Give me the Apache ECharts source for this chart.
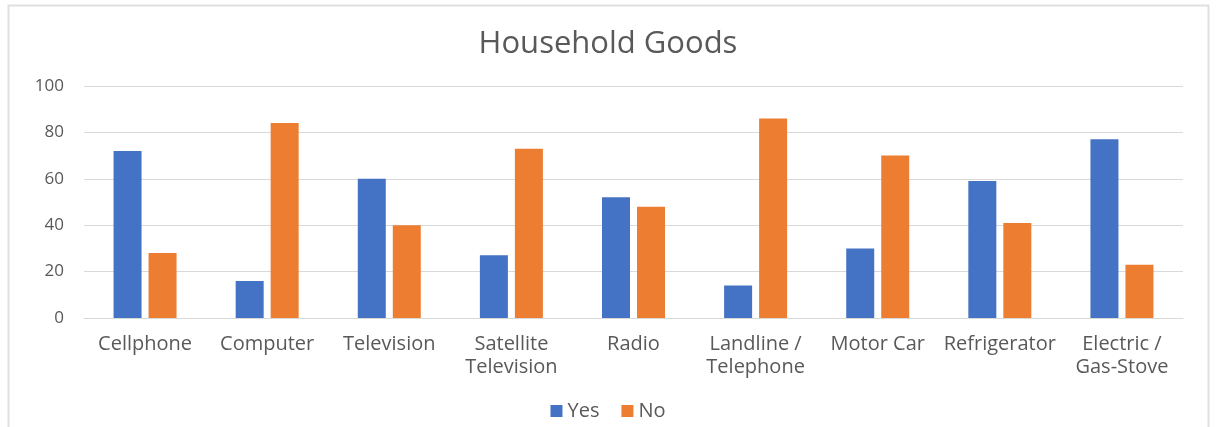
<!DOCTYPE html>
<html>
<head>
<meta charset="utf-8">
<script src="https://cdn.jsdelivr.net/npm/echarts@6/dist/echarts.min.js"></script>
<style>
html,body{margin:0;padding:0;background:#fff;}
#chart{width:1216px;height:427px;}
</style>
</head>
<body>
<div id="chart"></div>
<script>
const categories = ['Cellphone','Computer','Television','Satellite\nTelevision','Radio','Landline /\nTelephone','Motor Car','Refrigerator','Electric /\nGas-Stove'];
const yesValues = [72,16,60,27,52,14,30,59,77];
const noValues = [28,84,40,73,48,86,70,41,23];
const yTicks = [0,20,40,60,80,100];

const chart = echarts.init(document.getElementById('chart'));
const font = '"Open Sans", sans-serif';
chart.setOption({
  animation:false,
  graphic:[{type:'rect',shape:{x:8.5,y:5.5,width:1200,height:430},style:{fill:'none',stroke:'#e0e0e0',lineWidth:2}}],
  title:{text:'Household Goods',left:'center',top:24,textStyle:{fontFamily:font,fontSize:31,fontWeight:'normal',color:'#595959'}},
  legend:{bottom:1,left:'center',itemWidth:12,itemHeight:12,itemGap:22,icon:'rect',
    textStyle:{fontFamily:font,fontSize:20,color:'#595959'},data:['Yes','No']},
  grid:{left:84,right:33,top:86,bottom:109},
  xAxis:{type:'category',data:categories,
    axisLine:{lineStyle:{color:'#d9d9d9'}},axisTick:{show:false},
    axisLabel:{fontFamily:font,fontSize:20,color:'#595959',margin:15,lineHeight:23,interval:0}},
  yAxis:{type:'value',min:yTicks[0],max:yTicks[yTicks.length-1],interval:20,
    axisLine:{show:false},axisTick:{show:false},
    splitLine:{lineStyle:{color:'#d9d9d9'}},
    axisLabel:{fontFamily:font,fontSize:17,color:'#595959',margin:20}},
  series:[
    {name:'Yes',type:'bar',data:yesValues,barWidth:28,barGap:'25%',itemStyle:{color:'#4472c4'}},
    {name:'No',type:'bar',data:noValues,barWidth:28,itemStyle:{color:'#ed7d31'}}
  ]
});
</script>
</body>
</html>
